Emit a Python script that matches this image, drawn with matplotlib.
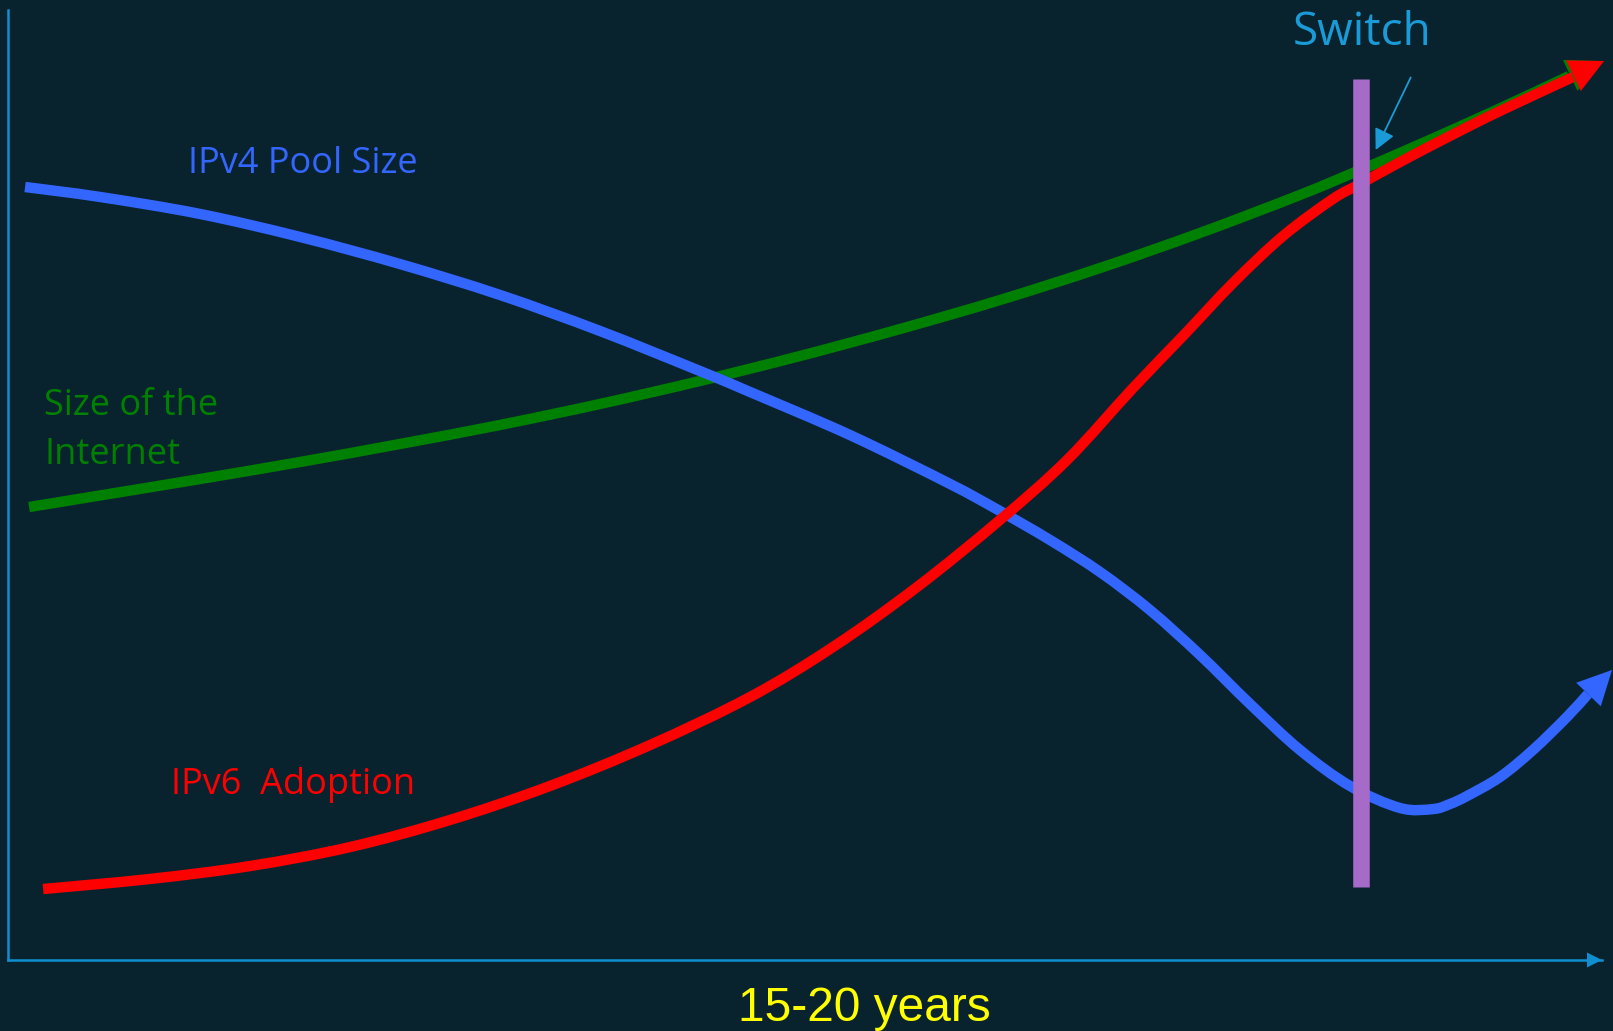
import numpy as np
import matplotlib.pyplot as plt
from matplotlib.path import Path
from matplotlib.patches import PathPatch

# x: position along the timeline (0-100), y: relative level (0-100)
ipv4_x = [1.07, 5.77, 12.05, 18.32, 24.59, 30.87, 37.14, 43.41, 46.55, 52.82, 59.1, 62.23, 65.37,
          68.51, 71.64, 74.78, 77.92, 81.05, 84.19, 87.33, 89.4, 90.46, 91.53, 93.6, 95.67, 97.8,
          99.12, 100.63]
ipv4_y = [81.37, 80.32, 78.53, 76.11, 73.26, 70.0, 66.21, 62.0, 59.79, 55.26, 50.11, 47.26, 44.21,
          40.84, 36.84, 32.11, 26.95, 22.11, 18.32, 16.0, 15.89, 16.42, 17.26, 19.26, 22.11, 25.58,
          28.0, 30.53]

internet_x = [1.32, 5.96, 12.05, 18.32, 24.59, 30.87, 37.14, 43.41, 49.69, 55.96, 62.23, 68.51,
              74.78, 81.05, 84.82, 87.33, 93.1, 97.93, 99.94]
internet_y = [47.68, 48.95, 50.63, 52.42, 54.32, 56.32, 58.53, 60.95, 63.58, 66.42, 69.47, 72.84,
              76.53, 80.53, 83.16, 84.95, 89.26, 93.05, 94.63]

ipv6_x = [2.2, 8.91, 15.18, 21.46, 27.73, 34.0, 40.28, 46.55, 51.76, 57.03, 62.23, 66.44, 70.58,
          73.71, 76.85, 79.99, 83.12, 84.82, 87.33, 90.46, 93.6, 98.18, 100.13]
ipv6_y = [7.47, 8.53, 9.89, 11.89, 14.74, 18.32, 22.63, 27.68, 32.95, 39.26, 46.32, 52.63, 60.21,
          65.68, 71.26, 76.21, 80.11, 81.68, 84.0, 86.74, 89.37, 92.95, 94.63]

switch_x = 84.85
switch_y = [7.7, 92.7]

bg = '#09232e'
axis_color = '#0f8fd0'

fig = plt.figure(figsize=(16.13, 10.31), dpi=100, facecolor=bg)
ax = fig.add_axes([8 / 1613, 71 / 1031, 1594 / 1613, 950 / 1031])
ax.set_facecolor(bg)
ax.set_xlim(0, 100)
ax.set_ylim(0, 100)
ax.set_xticks([])
ax.set_yticks([])
for side in ['top', 'right']:
    ax.spines[side].set_visible(False)
for side in ['left', 'bottom']:
    ax.spines[side].set_color(axis_color)
    ax.spines[side].set_linewidth(1.8)

# x axis arrow head
ax.annotate('', xy=(100, 0), xytext=(95, 0),
            arrowprops=dict(arrowstyle='-|>,head_length=1,head_width=0.5', mutation_scale=10.8,
                            lw=0, color=axis_color, shrinkA=0, shrinkB=0),
            annotation_clip=False)


def smooth_path(x, y):
    # catmull-rom through the points, as cubic bezier segments
    pts = np.column_stack([x, y])
    ext = np.vstack([pts[0], pts, pts[-1]])
    verts = [pts[0]]
    for i in range(len(pts) - 1):
        p0, p1, p2, p3 = ext[i], ext[i + 1], ext[i + 2], ext[i + 3]
        verts += [p1 + (p2 - p0) / 6, p2 - (p3 - p1) / 6, p2]
    codes = [Path.MOVETO] + [Path.CURVE4] * (3 * (len(pts) - 1))
    return Path(verts, codes)


def curve_with_arrow(x, y, color, z):
    # line stops at the base of the head, the last point is the tip
    patch = PathPatch(smooth_path(x[:-1], y[:-1]), facecolor='none', edgecolor=color, lw=7.5,
                      capstyle='butt', joinstyle='round', zorder=z, clip_on=False)
    ax.add_patch(patch)
    ax.annotate('', xy=(x[-1], y[-1]), xytext=(x[-3], y[-3]),
                arrowprops=dict(arrowstyle='-|>,head_length=1,head_width=0.5', mutation_scale=24.5,
                                lw=0, color=color, shrinkA=0, shrinkB=0),
                annotation_clip=False, zorder=z)


curve_with_arrow(internet_x, internet_y, '#008000', 3)
curve_with_arrow(ipv4_x, ipv4_y, '#3366ff', 4)
curve_with_arrow(ipv6_x, ipv6_y, '#ff0000', 5)

# the switch point
ax.plot([switch_x, switch_x], switch_y, color='#a66ac8', lw=11.9, solid_capstyle='butt', zorder=6)

font = 'Open Sans'
ax.text(80.6, 96.3, 'Switch', color='#1a9ad6', fontsize=33, family=font, va='baseline', clip_on=False)
ax.annotate('', xy=(85.8, 85.26), xytext=(88.0, 92.9),
            arrowprops=dict(arrowstyle='-|>,head_length=0.7,head_width=0.35', mutation_scale=18,
                            lw=1.3, color='#1a9ad6', shrinkA=0, shrinkB=0), zorder=7)

ax.text(11.3, 82.8, 'IPv4 Pool Size', color='#3366ff', fontsize=26, family=font, va='baseline')
ax.text(2.26, 52.2, 'Size of the\nInternet', color='#008000', fontsize=26, family=font,
        va='baseline', linespacing=1.48)
ax.text(10.2, 17.5, 'IPv6  Adoption', color='#ff0000', fontsize=26, family=font, va='baseline')

ax.text(53.7, -6.4, '15-20 years', color='#ffff00', fontsize=34.5, family='Liberation Sans',
        ha='center', va='baseline', clip_on=False)

fig.savefig('out.png', dpi=100, facecolor=bg)
